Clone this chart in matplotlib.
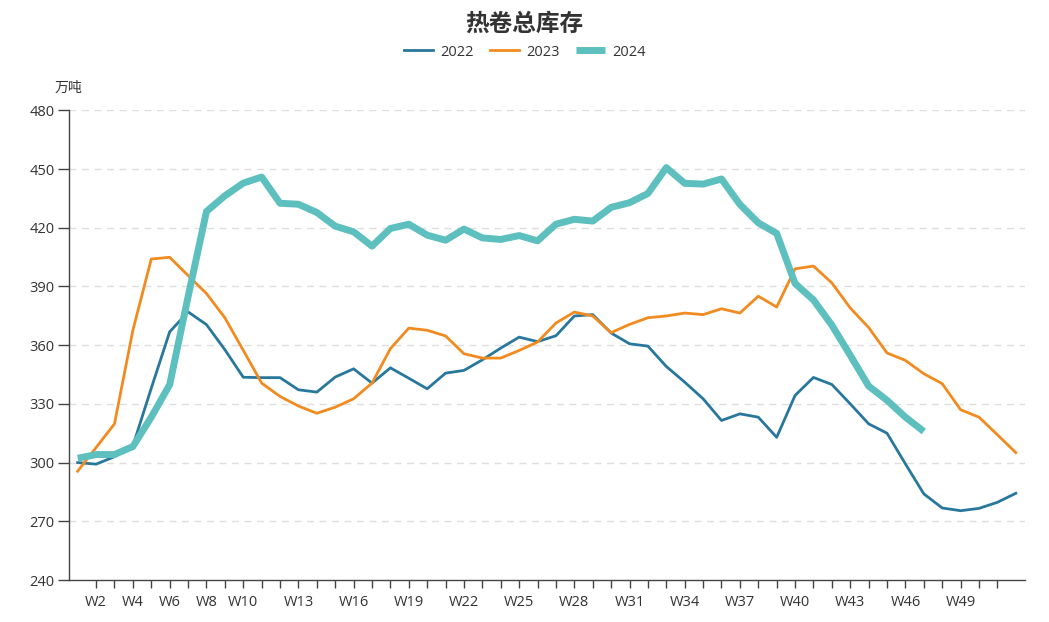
import matplotlib
matplotlib.use("Agg")
import matplotlib.pyplot as plt

plt.rcParams['font.family'] = ['Open Sans', 'Noto Sans CJK SC', 'DejaVu Sans']

# weekly hot-rolled coil total inventory, 万吨
weeks = [f"W{i}" for i in range(1, 53)]

inv_2022 = [300.0, 299.2, 303.0, 308.5, 338.0, 366.8, 377.0, 370.5, 357.7, 343.6,
            343.4, 343.4, 337.2, 336.0, 343.7, 347.9, 340.6, 348.4, 343.1, 337.7,
            345.7, 347.1, 352.5, 358.5, 364.1, 361.8, 364.8, 374.9, 375.6, 366.2,
            360.7, 359.5, 349.1, 341.1, 332.6, 321.5, 324.9, 323.2, 312.9, 334.3,
            343.5, 339.9, 330.0, 319.8, 315.0, 299.3, 284.0, 276.8, 275.4, 276.6,
            279.7, 284.3]

inv_2023 = [295.6, 307.7, 319.8, 367.6, 404.0, 404.9, 395.6, 386.4, 374.0, 357.4,
            340.6, 333.8, 328.9, 325.2, 328.3, 332.6, 340.6, 358.2, 368.7, 367.6,
            364.7, 355.6, 353.4, 353.4, 357.3, 361.6, 371.3, 376.9, 374.9, 366.4,
            370.6, 374.0, 374.9, 376.4, 375.6, 378.6, 376.4, 385.0, 379.5, 399.0,
            400.4, 391.8, 379.0, 369.0, 356.0, 352.2, 345.4, 340.3, 327.0, 323.2,
            314.2, 305.1]

inv_2024 = [302.2, 304.1, 304.1, 308.2, 323.2, 339.8, 384.7, 428.3, 436.3, 442.8,
            445.9, 432.5, 432.0, 427.8, 420.8, 417.9, 410.6, 419.6, 421.8, 416.2,
            413.6, 419.3, 414.8, 414.0, 416.0, 413.3, 421.8, 424.3, 423.4, 430.4,
            432.8, 437.5, 450.7, 442.7, 442.3, 444.9, 431.9, 422.5, 417.1, 391.5,
            383.1, 370.2, 354.8, 339.1, 331.8, 323.2, 315.9]

shown_labels = ["W2", "W4", "W6", "W8", "W10", "W13", "W16", "W19", "W22", "W25",
                "W28", "W31", "W34", "W37", "W40", "W43", "W46", "W49"]
y_ticks = [240, 270, 300, 330, 360, 390, 420, 450, 480]

W, H = 1049, 622
fig = plt.figure(figsize=(W / 100, H / 100), dpi=100)
ax = fig.add_axes([68.5 / W, (H - 580) / H, (1025 - 68.5) / W, (580 - 110.3) / H])

x = list(range(len(weeks)))
ax.plot(x[:len(inv_2022)], inv_2022, color='#28779c', lw=2.0, label='2022',
        solid_joinstyle='round', zorder=3)
ax.plot(x[:len(inv_2023)], inv_2023, color='#f28b1f', lw=2.0, label='2023',
        solid_joinstyle='round', zorder=3)
ax.plot(x[:len(inv_2024)], inv_2024, color='#5dc0be', lw=5.0, label='2024',
        solid_joinstyle='round', solid_capstyle='butt', zorder=4)

ax.set_xlim(-0.5, len(weeks) - 0.5)
ax.set_ylim(y_ticks[0], y_ticks[-1])
ax.set_yticks(y_ticks)

# ticks sit on every week from W2 to W51, labels only on some
ax.set_xticks(x[1:-1])
ax.set_xticklabels([w if w in shown_labels else '' for w in weeks[1:-1]])

ax.tick_params(axis='x', length=5.5, width=1, color='#444', labelsize=10.5,
               labelcolor='#333', pad=5)
ax.tick_params(axis='y', length=8, width=1, color='#444', labelsize=10.5,
               labelcolor='#333', pad=2)

for s in ['top', 'right']:
    ax.spines[s].set_visible(False)
for s in ['left', 'bottom']:
    ax.spines[s].set_color('#444')
    ax.spines[s].set_linewidth(1)

for yv in y_ticks[1:]:
    ax.axhline(yv, color='#dedede', lw=1, dashes=(5, 4), zorder=1)

fig.text(0.5, 1 - 24 / H, '热卷总库存', ha='center', va='center', fontsize=17,
         fontweight='bold', color='#333', family=['Noto Sans CJK SC'])
fig.text(68.5 / W, 1 - 88 / H, '万吨', ha='center', va='center', fontsize=10,
         color='#333', family=['Noto Sans CJK SC'])

leg = fig.legend(loc='center', bbox_to_anchor=(0.5, 1 - 52 / H), ncol=3,
                 frameon=False, fontsize=10.5, handlelength=2.0, handletextpad=0.5,
                 columnspacing=1.1, labelcolor='#333')

fig.savefig('out.png', dpi=100)
